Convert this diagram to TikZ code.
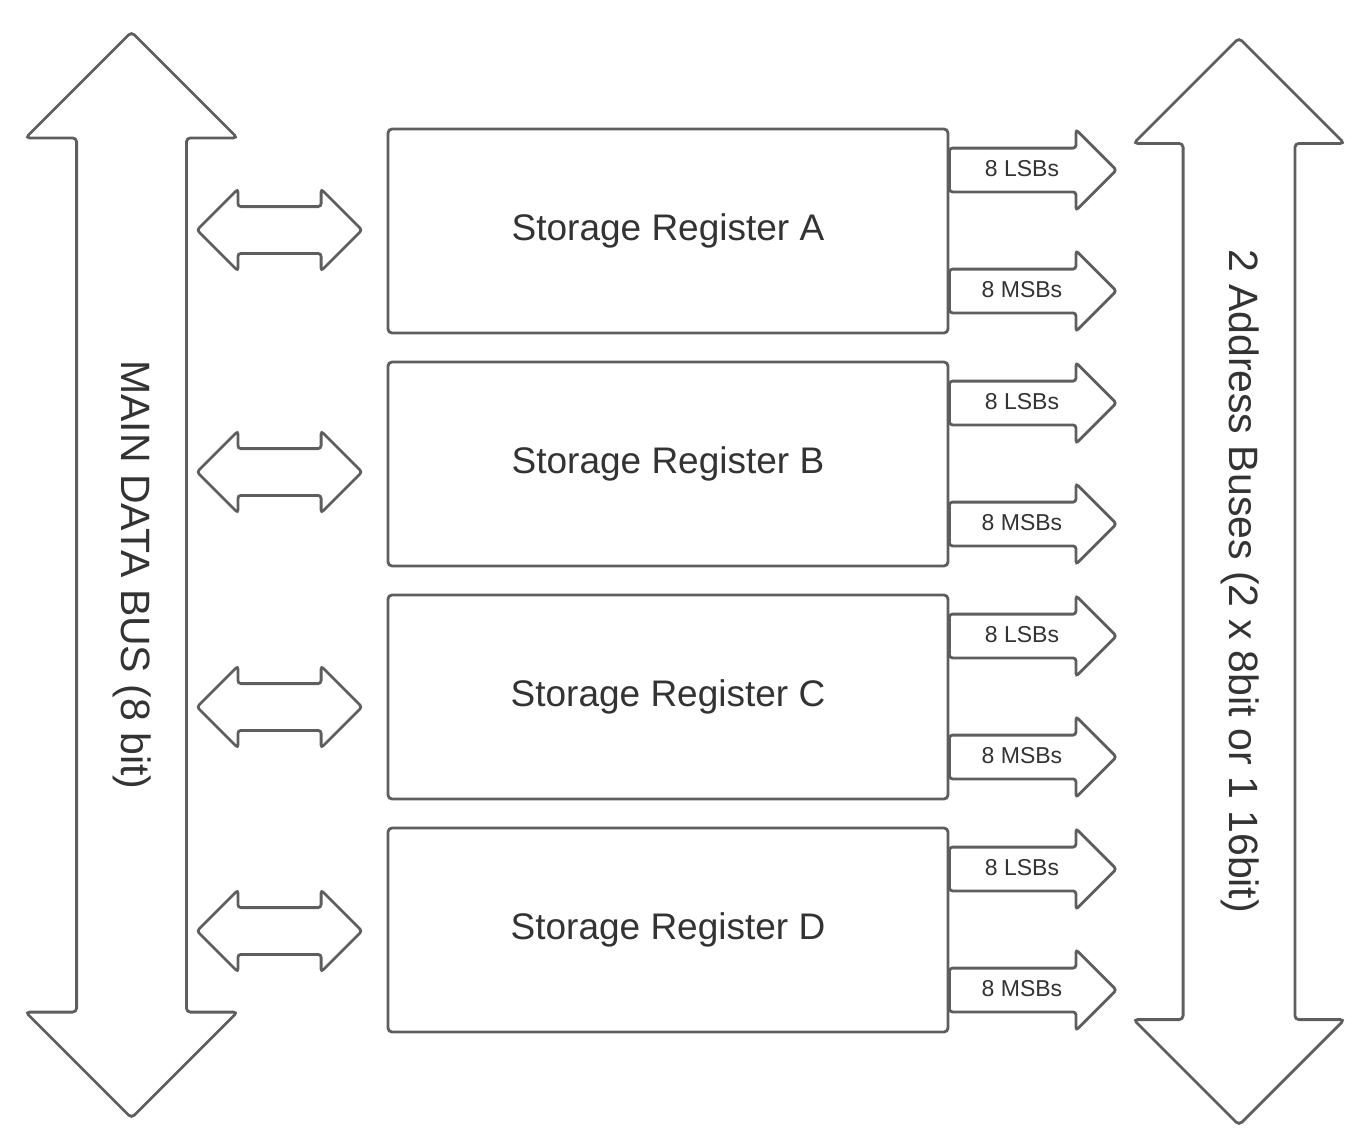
\documentclass[tikz,border=0pt]{standalone}
\usepackage{fontspec}
\setmainfont{Liberation Sans}
\usetikzlibrary{shapes.arrows,positioning}

\definecolor{edgegray}{HTML}{5E5E5E}
\definecolor{textgray}{HTML}{333333}

\tikzset{
  every node/.style={text=textgray},
  register/.style={draw=edgegray, line width=2.8pt, rounded corners=4pt, fill=white,
    minimum width=560pt, minimum height=204pt, outer sep=0pt, inner sep=0pt,
    font=\fontsize{37}{44}\selectfont},
  bus/.style={draw=edgegray, line width=2.8pt, rounded corners=4pt, double arrow,
    double arrow tip angle=90, text height=30pt, text depth=10pt, inner xsep=0pt,
    inner ysep=33.5pt, double arrow head extend=51pt, minimum height=1086pt,
    rotate=-90, font=\fontsize{41}{49}\selectfont},
  link/.style={draw=edgegray, line width=2.8pt, rounded corners=3pt, double arrow,
    double arrow tip angle=90, inner xsep=0pt, inner ysep=22pt,
    double arrow head extend=17.5pt, minimum height=165pt},
  bits/.style={draw=edgegray, line width=2.8pt, rounded corners=3pt, single arrow,
    single arrow tip angle=90, text height=17pt, text depth=5pt, inner xsep=10pt,
    inner ysep=9.5pt, single arrow head extend=18.5pt, minimum height=167pt,
    anchor=tail, fill=white, font=\fontsize{23}{28}\selectfont}
}

\begin{document}
\begin{tikzpicture}[x=1pt, y=-1pt]
\useasboundingbox (0,0) rectangle (1366,1146);

% buses
\node [bus] (data-bus) at (131.5,575) {MAIN DATA BUS (8 bit)};
\node [bus, inner ysep=34.5pt, double arrow head extend=49.5pt, minimum height=1087pt]
  (addr-bus) at (1239,581.5) {2 Address Buses (2 x 8bit or 1 16bit)};

% registers
\node [register] (reg-A) at (668,231) {Storage Register A};
\foreach \n/\p in {B/A,C/B,D/C}
  \node [register, below=29pt of reg-\p] (reg-\n) {Storage Register \n};

% links to the data bus
\foreach \n/\y in {A/230,B/472,C/707,D/931}
  \node [link] (link-\n) at (279.5,\y) {};

% outputs to the address buses
\foreach \n in {A,...,D} {
  \node [bits] (lsb-\n) at ([yshift=61pt]reg-\n.east) {8 LSBs};
  \node [bits] (msb-\n) at ([yshift=-60pt]reg-\n.east) {8 MSBs};
}
\end{tikzpicture}
\end{document}
